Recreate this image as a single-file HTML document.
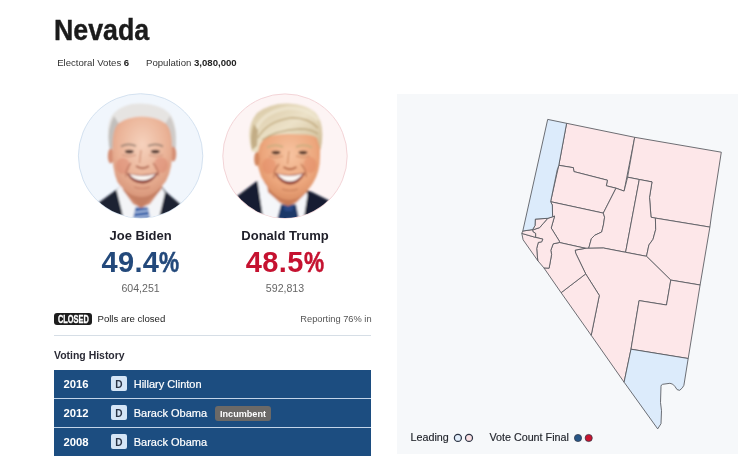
<!DOCTYPE html>
<html lang="en">
<head>
<meta charset="utf-8">
<title>Nevada</title>
<style>
*{box-sizing:border-box;margin:0;padding:0}
html,body{width:738px;height:462px;background:#fff;overflow:hidden}
body{font-family:"Liberation Sans",sans-serif;color:#222;position:relative}
.abs{position:absolute;white-space:nowrap;line-height:1}
.sx{display:inline-block;transform-origin:0 50%;white-space:nowrap}
h1{-webkit-text-stroke:.4px #1b1b1b;position:absolute;left:54px;top:15.8px;font-size:29.2px;font-weight:700;color:#1b1b1b;line-height:1;white-space:nowrap}
h1 .sx{transform:scaleX(.917)}
.meta{font-size:9.6px;color:#333;top:57.9px}
.meta b{font-weight:700;color:#222}
.cname{font-size:13px;font-weight:700;color:#1f1f29;text-align:center;width:140px;top:228.6px}
.pct{font-size:29px;font-weight:700;text-align:center;width:140px;top:248px;letter-spacing:.35px}
.pct .pc{display:inline-block;width:20.5px;-webkit-text-stroke:.5px currentColor;transform:scaleX(.78);transform-origin:0 50%;text-align:left}
.votes{font-size:10.6px;color:#666;text-align:center;width:140px;top:283.1px}
.closed{left:54px;top:313.3px;width:38.3px;height:11.8px;background:#1d1d1d;border-radius:3px;color:#fff;font-size:10px;font-weight:700}
.closed .sx{position:absolute;left:3.9px;top:1.9px;line-height:1;transform:scaleX(.74);-webkit-text-stroke:.3px #fff}
.small{font-size:9.6px;color:#222}
.hr{position:absolute;left:54px;top:335px;width:317px;height:1px;background:#d6dee6}
.vh{left:54.3px;top:349.8px;font-size:11px;font-weight:700;color:#2a2a35}
.vh .sx{transform:scaleX(.95)}
.tbl{position:absolute;left:54px;top:370px;width:317px;height:86px;background:#c3d5e9}
.row{position:relative;height:28px;background:#1c4d80;margin-bottom:1px}
.row .yr{position:absolute;left:9.5px;top:8.5px;font-size:11.3px;font-weight:700;color:#fff;line-height:1}
.row .d{position:absolute;left:57px;top:6.2px;width:16px;height:14.6px;border-radius:2px;background:#d5e5f6;color:#2a3446;font-size:10.1px;font-weight:700;text-align:center;line-height:17px}
.row .nm{position:absolute;left:79.7px;top:8.7px;font-size:11px;color:#fff;line-height:1;white-space:nowrap;-webkit-text-stroke:.2px #fff}
.inc{position:absolute;left:161px;top:7.1px;width:56px;height:14.5px;border-radius:3px;background:#6b6967;color:#fff;font-size:9.1px;font-weight:700;text-align:center;line-height:16.6px}
.panel{position:absolute;left:397.3px;top:94px;width:341px;height:360px;background:#f6f8fa}
.leg{font-size:10.75px;color:#23262d;top:431.8px;-webkit-text-stroke:.15px #23262d}
</style>

</head>
<body>
<h1><span class="sx">Nevada</span></h1>
<div class="abs meta" style="left:57.2px">Electoral Votes <b>6</b></div>
<div class="abs meta" style="left:146px">Population <b>3,080,000</b></div>

<svg class="abs" style="left:70px;top:86px" width="300" height="140" viewBox="70 86 300 140">
  <defs>
    <clipPath id="cb"><circle cx="140.6" cy="155.9" r="61.9"/></clipPath>
    <clipPath id="ct"><circle cx="285" cy="156.1" r="61.9"/></clipPath>
    <filter id="bl" x="-10%" y="-10%" width="120%" height="120%"><feGaussianBlur stdDeviation="0.9"/></filter>
    <filter id="bl2" x="-10%" y="-10%" width="120%" height="120%"><feGaussianBlur stdDeviation="1.6"/></filter>
    <radialGradient id="skb" cx="50%" cy="35%" r="70%"><stop offset="0" stop-color="#f6d2bd"/><stop offset=".6" stop-color="#eab296"/><stop offset="1" stop-color="#d59175"/></radialGradient>
    <radialGradient id="skt" cx="52%" cy="40%" r="70%"><stop offset="0" stop-color="#f7c4a1"/><stop offset=".6" stop-color="#eca67c"/><stop offset="1" stop-color="#d3845a"/></radialGradient>
    <linearGradient id="hrt" x1="0" y1="0" x2="1" y2="1"><stop offset="0" stop-color="#d6c49f"/><stop offset=".5" stop-color="#ece2c8"/><stop offset="1" stop-color="#cbb58c"/></linearGradient>
  </defs>
  <circle cx="140.6" cy="155.9" r="62.2" fill="#f1f6fc" stroke="#cddded" stroke-width=".85"/>
  <g clip-path="url(#cb)"><g filter="url(#bl)">
    <!-- suit -->
    <path d="M94 206 L116 190 L123 184 L160 184 L166 192 L180 204 L190 226 L88 226 Z" fill="#1a2132"/>
    <!-- shirt -->
    <path d="M116.5 190 L123 183 L160 184 L165 193 L160 214 L158 224 L124 224 L122 212 Z" fill="#f3f4f7"/>
    
    
    <!-- tie -->
    <path d="M135.5 207.5 L148 207.5 L151 224 L132 224 Z" fill="#3460a8"/>
    <path d="M134.5 212.5 L149.5 210.5 M133.5 217.5 L150.5 215.5" stroke="#c3d3ee" stroke-width="1.4"/>
    <!-- neck -->
    <path d="M121 176 L163 174 L162 188 L150 204 L141 208 L133 204 L123 190 Z" fill="#d38f72"/>
    <path d="M123 184 Q141 204 161 183 L161 190 L141 208 L124 191Z" fill="#b97358" opacity=".55"/>
    <!-- hair -->
    <path d="M110.5 152 Q104 124 114 113 Q124 103 141 103.5 Q160 104 169 113 Q179 124 174.5 152 L169 142 L166 126 Q160 118 141.5 116.5 Q124 117 118 126 L115 142 Z" fill="#e6e4e2"/>
    <path d="M109 146 Q107 128 114 116 L119 124 L115 142 L111 152Z" fill="#b9b5b3" opacity=".8"/>
    <path d="M176 146 Q177 128 170 116 L165 124 L169 142 L174 152Z" fill="#c4c0be" opacity=".7"/>
    <!-- ears -->
    <ellipse cx="110.8" cy="156" rx="3" ry="7.5" fill="#d58f75"/>
    <ellipse cx="173.3" cy="154" rx="3" ry="7.5" fill="#d58f75"/>
    <!-- face -->
    <path d="M112.5 146 Q112.5 128 119 123 Q128 116.5 141.5 116.5 Q156 116.5 165 123 Q172 128 172 148 Q173 168 166 181 Q154 197 141.5 197 Q128 197 117.5 182 Q111.5 168 112.5 146Z" fill="url(#skb)"/>
    <!-- cheeks -->
    <ellipse cx="123" cy="166" rx="7" ry="8" fill="#d9806a" opacity=".45"/>
    <ellipse cx="161" cy="165" rx="7" ry="8" fill="#d9806a" opacity=".45"/>
    <!-- brows/eyes -->
    <path d="M121 146.5 Q128 142.5 136 146 M148 146 Q156 142.5 163 146.5" stroke="#9a8273" stroke-width="1.8" fill="none"/>
    <ellipse cx="129.3" cy="151.6" rx="4.4" ry="1.9" fill="#4f3830"/>
    <ellipse cx="155.3" cy="151.6" rx="4.4" ry="1.9" fill="#4f3830"/>
    <path d="M122 155 Q129 158 136 155 M149 155 Q156 158 163 155" stroke="#c98a72" stroke-width="1" fill="none"/>
    <!-- nose -->
    <path d="M141 150 L139.5 163" stroke="#cf8d72" stroke-width="1.2" fill="none"/>
    <path d="M136 166 Q142.5 170.5 149 166" stroke="#b06650" stroke-width="1.8" fill="none"/>
    <!-- smile lines -->
    <path d="M131 163 Q125 170 126 177 M153 163 Q159 170 158.5 176" stroke="#bd7660" stroke-width="1.2" fill="none"/>
    <!-- mouth -->
    <path d="M126.5 173 Q142.5 177 158.5 172.5 Q152 183.5 142.5 183.5 Q132 183.5 126.5 173Z" fill="#8a3c36"/>
    <path d="M129 174 Q142.5 177.5 156 173.8 Q150 180.5 142.5 180.5 Q134 180.5 129 174Z" fill="#fbf7f3"/>
    <path d="M134 187 Q142 190 150 187" stroke="#c98068" stroke-width="1.2" fill="none"/>
  </g></g>
  <circle cx="285" cy="156.1" r="62.2" fill="#fdf4f4" stroke="#f1cdd1" stroke-width=".85"/>
  <g clip-path="url(#ct)"><g filter="url(#bl)">
    <!-- suit -->
    <path d="M228 203 L257 181 L268 184 L306 190 L312 192 L330 201 L342 226 L224 226 Z" fill="#141a30"/>
    <!-- shirt -->
    <path d="M257.5 181 L268 180 L305 184 L307.5 195 L303 224 L264 224 Z" fill="#f5f6f9"/>
    
    
    <!-- tie -->
    <path d="M281 204.5 L296 204.5 L300 224 L276 224 Z" fill="#1e3768"/>
    <path d="M283 204.5 L294 204.5 L292 211 L285 211Z" fill="#2a4a86"/>
    <!-- neck -->
    <path d="M266 178 L309 176 L307 192 L296 203 L288 206 L280 203 L268 192 Z" fill="#d68a63"/>
    <path d="M268 186 Q289 206 308 184 L307 192 L288 206 L268 192Z" fill="#b96e4c" opacity=".55"/>
    <!-- face -->
    <path d="M256.5 150 Q256.5 132 264 128 Q288 120 316 130 Q321 140 320 156 Q320 172 313 183 Q302 200 289 200 Q276 200 264.5 183 Q256.5 170 256.5 150Z" fill="url(#skt)"/>
    <ellipse cx="269" cy="166" rx="7" ry="8" fill="#de7f5c" opacity=".4"/>
    <ellipse cx="310" cy="165" rx="6.5" ry="8" fill="#de7f5c" opacity=".4"/>
    <!-- hair -->
    <path d="M252 152 Q244.500 128 257 113 Q270 103 288 103.500 Q306 104 315 112 Q326 124 320.500 150 L317 138 Q312 134 300 134.500 Q282 133 270 136 Q262 139 259.500 146 L258 152 Z" fill="url(#hrt)"/>
    <path d="M256 130 Q262 112 288 108 Q308 108 318 120" stroke="#efe6cf" stroke-width="3.5" fill="none" opacity=".8"/>
    <path d="M258 138 Q266 122 290 118 Q308 117 318 128" stroke="#b89d6c" stroke-width="1.6" fill="none" opacity=".7"/>
    <path d="M262 140 Q276 130 300 129 Q312 129 318 134" stroke="#a98c5a" stroke-width="1.4" fill="none" opacity=".6"/>
    <path d="M252 150 Q249 136 254 124 L258 130 L257 146 Z" fill="#b39a6e" opacity=".7"/>
    <!-- ear -->
    <ellipse cx="256.8" cy="159" rx="2.6" ry="7" fill="#d4875f"/>
    <!-- brows/eyes -->
    <path d="M267 147.500 Q275 143.500 283 147 M296 147 Q304 143.500 312 147.500" stroke="#cfae80" stroke-width="2" fill="none"/>
    <ellipse cx="276" cy="152.600" rx="4.400" ry="1.800" fill="#553829"/>
    <ellipse cx="303" cy="152.600" rx="4.400" ry="1.800" fill="#553829"/>
    <path d="M269 156 Q276 159 283 156 M296 156 Q303 159 310 156" stroke="#cc8660" stroke-width="1" fill="none"/>
    <path d="M289 151 L287.500 164" stroke="#cf8a62" stroke-width="1.200" fill="none"/>
    <path d="M283.500 167 Q290 171.500 296.500 167" stroke="#b2623f" stroke-width="1.800" fill="none"/>
    <path d="M279 164 Q273 171 274 178 M301 164 Q307 171 306 177" stroke="#be7250" stroke-width="1.200" fill="none"/>
    <!-- mouth -->
    <path d="M274.500 173 Q290 177 305.500 172.500 Q299 184.500 290 184.500 Q281 184.500 274.500 173Z" fill="#8d3a30"/>
    <path d="M277 174 Q290 177.500 303 173.800 Q297 181.500 290 181.500 Q283 181.500 277 174Z" fill="#fbf7f3"/>
    <path d="M282 189 Q290 192 298 189" stroke="#c77c58" stroke-width="1.200" fill="none"/>
  </g></g>
</svg>

<div class="abs cname" style="left:70.6px">Joe Biden</div>
<div class="abs pct" style="left:70.6px;color:#23497b">49.4<span class="pc">%</span></div>
<div class="abs votes" style="left:70.6px">604,251</div>
<div class="abs cname" style="left:215px">Donald Trump</div>
<div class="abs pct" style="left:215px;color:#c51230">48.5<span class="pc">%</span></div>
<div class="abs votes" style="left:215px">592,813</div>

<div class="abs closed"><span class="sx">CLOSED</span></div>
<div class="abs small" style="left:97.5px;top:314.1px">Polls are closed</div>
<div class="abs small" style="right:366.4px;top:315.3px;color:#555;font-size:9.3px">Reporting 76% in</div>
<div class="hr"></div>
<div class="abs vh"><span class="sx">Voting History</span></div>
<div class="tbl">
  <div class="row"><span class="yr">2016</span><span class="d">D</span><span class="nm">Hillary Clinton</span></div>
  <div class="row"><span class="yr">2012</span><span class="d">D</span><span class="nm">Barack Obama</span><span class="inc">Incumbent</span></div>
  <div class="row"><span class="yr">2008</span><span class="d">D</span><span class="nm">Barack Obama</span></div>
</div>

<div class="panel"></div>
<svg class="abs" style="left:397px;top:94px" width="341" height="360" viewBox="397 94 341 360">
  <g fill="#fde7e9" stroke="#54565c" stroke-width="0.85" stroke-linejoin="round">
    <!-- Humboldt -->
    <polygon points="566.6,123.3 634.7,137.3 628.2,170 624.1,191.1 616,188.2 606.3,185.8 607.4,180.2 573.9,171.6 573.4,167.7 558.8,165.3"/>
    <!-- Elko -->
    <polygon points="634.7,137.3 721.3,152.2 711.5,215 709.9,227.1 655.4,218.1 651,217.2 649.5,197.3 652,181.9 639.3,179.5 627.6,177.2"/>
    <!-- Pershing -->
    <polygon points="558.8,165.3 573.4,167.7 573.9,171.6 607.4,180.2 606.3,185.8 616,188.2 603.3,213.1 550.6,201.7"/>
    <!-- Churchill -->
    <polygon points="550.6,201.7 603.3,213.1 604.6,217.2 603.4,225 601.7,232 594.7,235.3 591.4,238.6 588.7,248.3 585.5,248.3 559.4,242.5 559.4,241.3 551.2,228 554.6,216.1 552.6,216.8 552.3,205"/>
    <!-- Lander -->
    <polygon points="616,188.2 624.1,191.1 627.6,177.2 639.3,179.5 625.6,252.3 603.4,248 588.7,248.3 591.4,238.6 594.7,235.3 601.7,232 603.4,225 604.6,217.2 603.3,213.1"/>
    <!-- Eureka -->
    <polygon points="639.3,179.5 652,181.9 649.5,197.3 651,217.2 655.4,218.1 655.7,229.5 653,239.3 648.9,245 646.5,256.3 625.6,252.3"/>
    <!-- White Pine -->
    <polygon points="655.4,218.1 709.9,227.1 700.1,285 670.8,280.1 646.5,256.3 648.9,245 653,239.3 655.7,229.5"/>
    <!-- Nye -->
    <polygon points="575.2,250.1 585.5,248.3 603.4,248 625.6,252.3 646.5,256.3 670.8,280.1 666.5,305 639.1,300.6 631,349.2 624.1,382.2 591.2,335.3 599.3,295.4 585.7,273.9 575.7,253.2"/>
    <!-- Lincoln -->
    <polygon points="670.8,280.1 700.1,285 688.2,358.5 631,349.2 639.1,300.6 666.5,305"/>
    <!-- Esmeralda -->
    <polygon points="585.7,273.9 599.3,295.4 591.2,335.3 561.1,292.7"/>
    <!-- Mineral -->
    <polygon points="559.4,242.5 585.5,248.3 575.2,250.1 575.7,253.2 585.7,273.9 561.1,292.7 543.9,267.9 549.1,268.2 551.6,254.4 550.8,250.3 553.2,243.8"/>
    <!-- Lyon -->
    <polygon points="547.8,218.3 552.6,216.8 554.6,216.1 551.2,228 559.4,241.2 559.4,242.5 553.2,243.8 550.8,250.3 551.6,254.4 549.1,268.2 543.9,267.9 537.8,260.7 537.2,255 536.7,248.4 538.3,242.4 541.6,241.9 542.8,239.1 535.6,237.4 535.6,233.4 532.9,231.7 532.6,229.6 533.6,229.6 539.7,227.6 543.1,223.6"/>
    <!-- Douglas -->
    <polygon points="521.8,233.4 535.6,237.4 542.8,239.1 541.6,241.9 538.3,242.4 536.7,248.4 537.2,255 537.8,260.7 523.1,239.8"/>
    <!-- Carson -->
    <polygon points="522.8,231 532.6,229.6 532.9,231.7 535.6,233.4 535.6,237.4 521.8,233.4"/>
    <!-- Storey -->
    <polygon points="535.3,219.1 547.8,218.3 543.1,223.6 539.7,227.6 533.6,229.6 532.6,229.6 535,225.6"/>
    <!-- Washoe -->
    <polygon fill="#dcebfb" points="547.7,119.4 566.6,123.3 558.8,165.3 557.2,170 550.6,201.7 552.3,205 552.6,216.8 547.8,218.3 535.3,219.1 535,225.6 532.6,229.6 522.8,231"/>
    <!-- Clark -->
    <path fill="#dcebfb" d="M631,349.2 L688.2,358.5 L683.9,385.3 Q682.9,387.9 679.7,390.3 Q677,391 674.8,386.3 Q673,383.5 669.9,383.3 L662.6,384.3 Q661,384.8 661,386.3 L660.5,402.5 L661.5,410.7 L661,423.7 L657.7,428.9 L624.1,382.2 Z"/>
  </g>
  <g stroke="#2c3444" stroke-width="1.25">
    <circle cx="457.9" cy="437.9" r="3.5" fill="#e3effc"/>
    <circle cx="469" cy="437.9" r="3.5" fill="#fbe1e4"/>
  </g>
  <g stroke="#2c3444" stroke-width=".7">
  <circle cx="578" cy="438" r="3.6" fill="#285686"/>
  <circle cx="588.7" cy="438" r="3.6" fill="#c8142f"/>
  </g>
</svg>
<div class="abs leg" style="left:410.5px">Leading</div>
<div class="abs leg" style="left:489.4px">Vote Count Final</div>
</body>
</html>
